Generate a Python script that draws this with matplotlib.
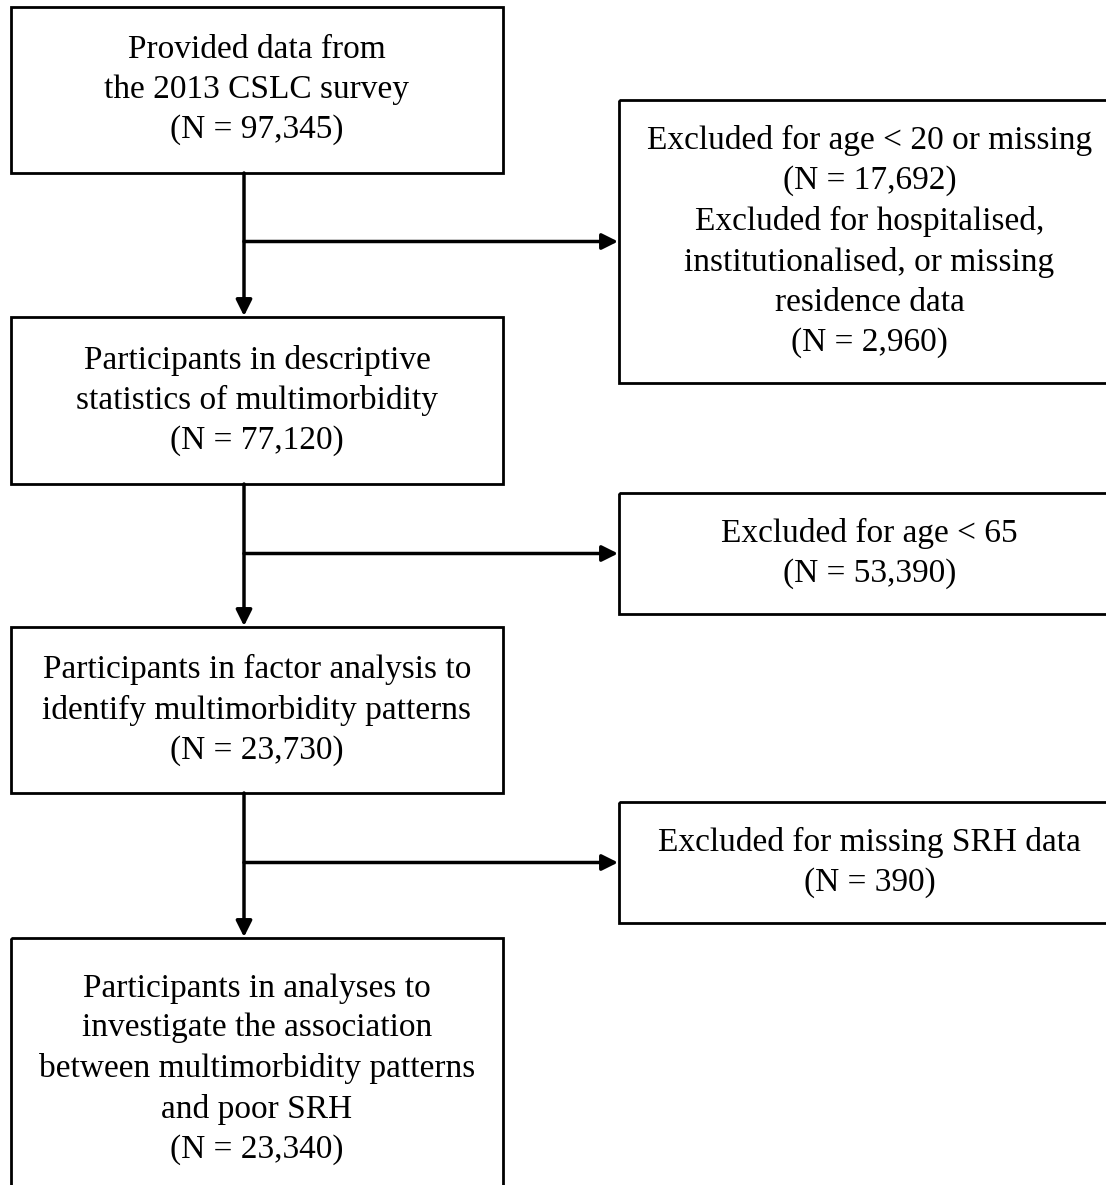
import matplotlib.pyplot as plt
from matplotlib.patches import Rectangle, FancyArrowPatch

# --- Data:

main_labels = ['Provided data from\nthe 2013 CSLC survey',
               'Participants in descriptive\nstatistics of multimorbidity',
               'Participants in factor analysis to\nidentify multimorbidity patterns',
               'Participants in analyses to\ninvestigate the association\n'
               'between multimorbidity patterns\nand poor SRH']
main_n = [97345, 77120, 23730, 23340]

excl_labels = [['Excluded for age < 20 or missing',
                'Excluded for hospitalised,\ninstitutionalised, or missing\nresidence data'],
               ['Excluded for age < 65'],
               ['Excluded for missing SRH data']]
excl_n = [[17692, 2960], [53390], [390]]

# --- Layout (pixels, y downwards):

W, H = 1106, 1185
main_x = (11, 503)
main_y = [(7, 173), (317, 484), (627, 793), (938, 1200)]
excl_x = (619, 1120)
excl_y = [(100, 383), (493, 614), (802, 923)]
trunk_x = 244

plt.rcParams['font.family'] = ['Liberation Serif', 'DejaVu Serif']

fig = plt.figure(figsize=(W / 100, H / 100), dpi=100)
ax = fig.add_axes([0, 0, 1, 1])
ax.set_xlim(0, W)
ax.set_ylim(H, 0)
ax.axis('off')


def box(x, y, text):
    ax.add_patch(Rectangle((x[0], y[0]), x[1] - x[0], y[1] - y[0],
                           fill=False, edgecolor='black', linewidth=2.0))
    ax.text((x[0] + x[1]) / 2, (y[0] + y[1]) / 2, text, ha='center', va='center',
            fontsize=24, linespacing=1.4, color='black')


def arrow(p0, p1):
    ax.add_patch(FancyArrowPatch(p0, p1, arrowstyle='-|>', mutation_scale=24,
                                 linewidth=2.5, color='black', shrinkA=0, shrinkB=0))


for label, n, y in zip(main_labels, main_n, main_y):
    box(main_x, y, f'{label}\n(N = {n:,})')

for labels, ns, y in zip(excl_labels, excl_n, excl_y):
    text = '\n'.join(f'{l}\n(N = {n:,})' for l, n in zip(labels, ns))
    box(excl_x, y, text)

for i in range(3):
    arrow((trunk_x, main_y[i][1]), (trunk_x, main_y[i + 1][0] - 1))
    yb = (excl_y[i][0] + excl_y[i][1]) / 2
    arrow((trunk_x, yb), (excl_x[0] - 1, yb))

fig.savefig('out.png', dpi=100)
